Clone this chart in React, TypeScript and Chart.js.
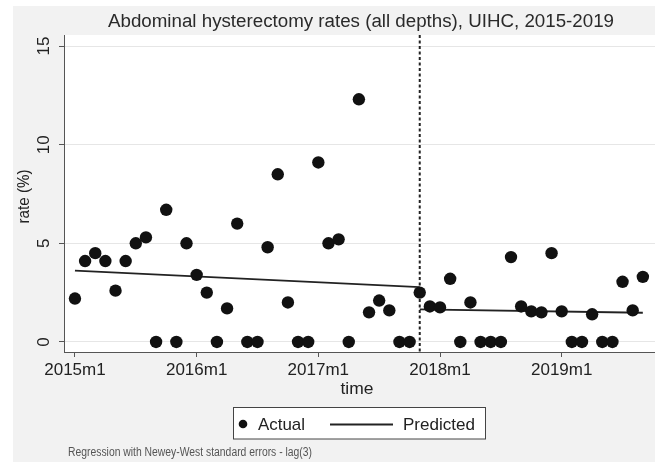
import React, { useEffect, useRef } from 'react';
import { Chart, registerables } from 'chart.js';

Chart.register(...registerables);

// Monthly abdominal hysterectomy rates (%), 2015m1 .. 2019m9 (57 months)
const actualRates: number[] = [
  2.2, 4.1, 4.5, 4.1, 2.6, 4.1, 5.0, 5.3, 0, 6.7, 0, 5.0,
  3.4, 2.5, 0, 1.7, 6.0, 0, 0, 4.8, 8.5, 2.0, 0, 0,
  9.1, 5.0, 5.2, 0, 12.3, 1.5, 2.1, 1.6, 0, 0, 2.5, 1.8,
  1.75, 3.2, 0, 2.0, 0, 0, 0, 4.3, 1.8, 1.55, 1.5, 4.5,
  1.55, 0, 0, 1.4, 0, 0, 3.05, 1.6, 3.3,
];

// Predicted (segmented regression) endpoints
const preMonths: number[] = [0, 34];
const prePredicted: number[] = [3.62, 2.78];
const postMonths: number[] = [34, 56];
const postPredicted: number[] = [1.65, 1.48];

const interventionMonth = 34; // 2017m11

const xTickValues: number[] = [0, 12, 24, 36, 48];
const xTickLabels: string[] = ['2015m1', '2016m1', '2017m1', '2018m1', '2019m1'];
const yTickValues: number[] = [0, 5, 10, 15];
const yTickLabels: string[] = ['0', '5', '10', '15'];

const titleText = 'Abdominal hysterectomy rates (all depths), UIHC, 2015-2019';
const xTitle = 'time';
const yTitle = 'rate (%)';
const legendLabels: string[] = ['Actual', 'Predicted'];
const noteText = 'Regression with Newey-West standard errors - lag(3)';

const FONT = '"Liberation Sans", Arial, sans-serif';

function fitText(
  ctx: CanvasRenderingContext2D,
  text: string,
  x: number,
  y: number,
  size: number,
  width: number,
  align: CanvasTextAlign,
  color: string,
  rotate = 0,
) {
  ctx.save();
  ctx.font = `${size}px ${FONT}`;
  const w = ctx.measureText(text).width;
  const s = width / w;
  ctx.translate(x, y);
  if (rotate) ctx.rotate(rotate);
  ctx.scale(s, 1);
  ctx.textAlign = align;
  ctx.textBaseline = 'alphabetic';
  ctx.fillStyle = color;
  ctx.fillText(text, 0, 0);
  ctx.restore();
}

const decorPlugin = {
  id: 'decor',
  beforeDraw(chart: any) {
    const { ctx, width, height, chartArea } = chart;
    ctx.save();
    ctx.fillStyle = '#ffffff';
    ctx.fillRect(0, 0, width, height);
    ctx.fillStyle = '#f2f2f2';
    ctx.fillRect(13, 6, width - 13, height - 6);
    ctx.fillStyle = '#ffffff';
    ctx.fillRect(chartArea.left, chartArea.top, width - chartArea.left, chartArea.bottom - chartArea.top);
    ctx.restore();
  },
  beforeDatasetsDraw(chart: any) {
    const { ctx, chartArea, scales } = chart;
    const x = scales.x.getPixelForValue(interventionMonth);
    ctx.save();
    ctx.strokeStyle = '#222';
    ctx.lineWidth = 2;
    ctx.setLineDash([3, 2.5]);
    ctx.beginPath();
    ctx.moveTo(x, chartArea.top);
    ctx.lineTo(x, chartArea.bottom);
    ctx.stroke();
    ctx.restore();
  },
  afterDraw(chart: any) {
    const { ctx, scales } = chart;
    // title
    fitText(ctx, titleText, 361, 27, 18, 506, 'center', '#2a2a2a');
    // y tick labels (rotated, Stata style)
    yTickValues.forEach((v, i) => {
      const y = scales.y.getPixelForValue(v);
      const lbl = yTickLabels[i];
      ctx.save();
      ctx.font = `17px ${FONT}`;
      ctx.translate(49, y);
      ctx.rotate(-Math.PI / 2);
      ctx.textAlign = 'center';
      ctx.textBaseline = 'alphabetic';
      ctx.fillStyle = '#222';
      ctx.fillText(lbl, 0, 0);
      ctx.restore();
    });
    // axis titles
    fitText(ctx, yTitle, 29, 196.5, 17, 54, 'center', '#222', -Math.PI / 2);
    fitText(ctx, xTitle, 357, 393.5, 17, 33, 'center', '#222');
    // legend
    ctx.save();
    ctx.fillStyle = '#ffffff';
    ctx.fillRect(233.5, 407.5, 252, 31.5);
    ctx.strokeStyle = '#444';
    ctx.lineWidth = 1;
    ctx.strokeRect(233.5, 407.5, 252, 31.5);
    ctx.fillStyle = '#111';
    ctx.beginPath();
    ctx.arc(243, 424, 4.3, 0, Math.PI * 2);
    ctx.fill();
    ctx.strokeStyle = '#222';
    ctx.lineWidth = 2;
    ctx.beginPath();
    ctx.moveTo(330, 424.5);
    ctx.lineTo(393, 424.5);
    ctx.stroke();
    ctx.restore();
    fitText(ctx, legendLabels[0], 258, 430, 17, 47, 'left', '#222');
    fitText(ctx, legendLabels[1], 403, 430, 17, 72, 'left', '#222');
    // note
    fitText(ctx, noteText, 68, 456, 12, 244, 'left', '#555');
  },
};

export default function App() {
  const canvasRef = useRef<HTMLCanvasElement | null>(null);

  useEffect(() => {
    if (!canvasRef.current) return;
    const chart = new Chart(canvasRef.current, {
      type: 'scatter',
      data: {
        datasets: [
          {
            label: legendLabels[0],
            data: actualRates.map((v, i) => ({ x: i, y: v })),
            backgroundColor: '#111',
            borderWidth: 0,
            pointRadius: 6.2,
            pointHoverRadius: 6.2,
          },
          {
            label: legendLabels[1],
            data: preMonths.map((m, i) => ({ x: m, y: prePredicted[i] })),
            showLine: true,
            borderColor: '#222',
            borderWidth: 1.8,
            pointRadius: 0,
            fill: false,
          },
          {
            label: legendLabels[1] + ' (post)',
            data: postMonths.map((m, i) => ({ x: m, y: postPredicted[i] })),
            showLine: true,
            borderColor: '#222',
            borderWidth: 1.8,
            pointRadius: 0,
            fill: false,
          },
        ],
      },
      options: {
        animation: false,
        responsive: true,
        maintainAspectRatio: false,
        layout: { autoPadding: false, padding: { top: 35, left: 0, right: 0, bottom: 0 } },
        plugins: {
          legend: { display: false },
          title: { display: false },
          tooltip: { enabled: false },
        },
        scales: {
          x: {
            type: 'linear',
            min: -1.08,
            max: 57.2,
            afterFit: (scale: any) => {
              scale.height = 110;
            },
            afterBuildTicks: (scale: any) => {
              scale.ticks = xTickValues.map((v) => ({ value: v }));
            },
            grid: {
              drawOnChartArea: false,
              drawTicks: true,
              tickLength: 5,
              tickColor: '#555',
            },
            border: { color: '#555', width: 1 },
            ticks: {
              padding: 3,
              color: '#222',
              font: { family: FONT, size: 17 },
              maxRotation: 0,
              minRotation: 0,
              callback: (v: any) => {
                const idx = xTickValues.indexOf(Number(v));
                return idx >= 0 ? xTickLabels[idx] : '';
              },
            },
          },
          y: {
            type: 'linear',
            min: -0.51,
            max: 15.56,
            afterFit: (scale: any) => {
              scale.width = 64;
            },
            afterBuildTicks: (scale: any) => {
              scale.ticks = yTickValues.map((v) => ({ value: v }));
            },
            grid: {
              color: '#e6e6e6',
              lineWidth: 1,
              drawTicks: true,
              tickLength: 5,
              tickColor: '#555',
            },
            border: { color: '#555', width: 1 },
            ticks: { display: false },
          },
        },
      },
      plugins: [decorPlugin],
    });
    return () => chart.destroy();
  }, []);

  return (
    <div style={{ position: 'fixed', left: 0, top: 0, width: 655, height: 462 }}>
      <canvas ref={canvasRef} />
    </div>
  );
}
